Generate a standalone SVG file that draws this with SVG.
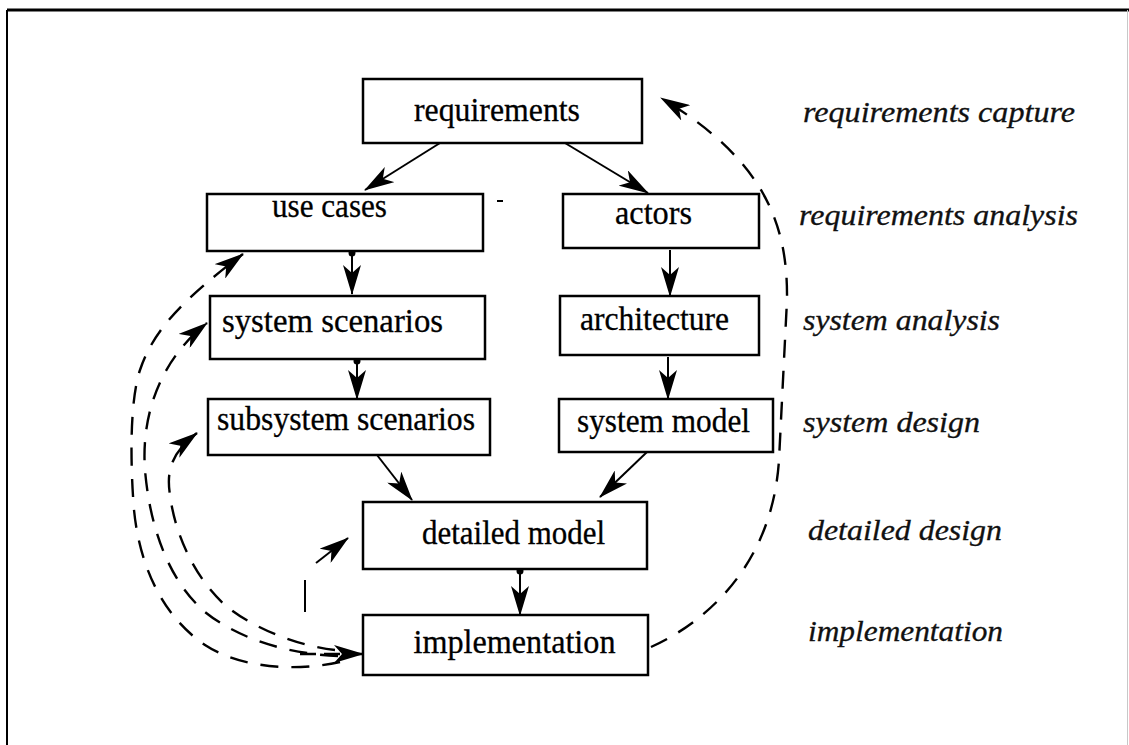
<svg xmlns="http://www.w3.org/2000/svg" width="1129" height="745" viewBox="0 0 1129 745">
<style>
.box{fill:#fff;stroke:#000;stroke-width:2.5}
.lbl{font-family:"Liberation Serif","Times New Roman",serif;font-size:33px;fill:#000;text-anchor:middle;stroke:#000;stroke-width:0.3}
.stage{font-family:"Liberation Serif","Times New Roman",serif;font-style:italic;font-size:29px;fill:#111;stroke:#111;stroke-width:0.3}
.solid{fill:none;stroke:#000;stroke-width:2}
.dash{fill:none;stroke:#000;stroke-width:2.4;stroke-dasharray:18 13}
</style>
<defs>
<marker id="ah" viewBox="0 0 30 18" refX="29" refY="9" markerWidth="30" markerHeight="18" markerUnits="userSpaceOnUse" orient="auto">
<path d="M0,0 L30,9 L0,18 L8,9 z" fill="#000"/>
</marker>
<marker id="dot" viewBox="0 0 8 8" refX="4" refY="4" markerWidth="8" markerHeight="8" markerUnits="userSpaceOnUse">
<circle cx="4" cy="4" r="3.5" fill="#000"/>
</marker>
</defs>
<rect x="0" y="0" width="1129" height="745" fill="#fff"/>
<g id="frame">
<line x1="7" y1="10" x2="1129" y2="10" stroke="#000" stroke-width="3"/>
<line x1="7" y1="10" x2="7" y2="745" stroke="#000" stroke-width="2"/>
<line x1="1127.5" y1="10" x2="1127.5" y2="745" stroke="#c8c8c8" stroke-width="1"/>
</g>
<g id="connectors">
<line class="solid" x1="440" y1="143" x2="365" y2="190" marker-end="url(#ah)"/>
<line class="solid" x1="565" y1="143" x2="648" y2="193" marker-end="url(#ah)"/>
<line class="solid" x1="352" y1="253" x2="352" y2="294" marker-start="url(#dot)" marker-end="url(#ah)"/>
<line class="solid" x1="357" y1="361" x2="357" y2="399" marker-start="url(#dot)" marker-end="url(#ah)"/>
<line class="solid" x1="670" y1="250" x2="670" y2="296" marker-end="url(#ah)"/>
<line class="solid" x1="668" y1="357" x2="668" y2="399" marker-end="url(#ah)"/>
<line class="solid" x1="377" y1="455" x2="412" y2="500" marker-end="url(#ah)"/>
<line class="solid" x1="647" y1="452" x2="600" y2="497" marker-end="url(#ah)"/>
<line class="solid" x1="520" y1="571" x2="520" y2="615" marker-start="url(#dot)" marker-end="url(#ah)"/>
<path class="dash" d="M651,647 C700,625 772,570 779,460 L787,300 C788,225 765,160 661,98" marker-end="url(#ah)"/>
<path class="dash" d="M340,662 C295,672 240,668 205,645 C165,618 140,570 134,510 C130,460 130,400 140,370 C152,335 175,305 243,254" marker-end="url(#ah)"/>
<path class="dash" d="M338,656 C290,654 240,640 205,612 C170,582 150,530 145,470 C141,415 160,360 207,323" marker-end="url(#ah)"/>
<path class="dash" d="M335,650 C300,646 255,630 225,605 C195,578 175,535 170,495 C166,470 172,452 197,433" marker-end="url(#ah)"/>
<line class="solid" x1="305" y1="580" x2="305" y2="612"/>
<line class="solid" x1="316" y1="563" x2="348" y2="538" marker-end="url(#ah)"/>
<path class="dash" style="stroke-dasharray:16 8" d="M300,654 L363,654" marker-end="url(#ah)"/>
<line x1="497" y1="201" x2="503" y2="201" stroke="#000" stroke-width="2"/>
</g>
<g id="requirements"><rect class="box" x="363" y="79" width="279" height="64"/><text class="lbl" x="497" y="121" textLength="166" lengthAdjust="spacingAndGlyphs">requirements</text></g>
<g id="use-cases"><rect class="box" x="207" y="194" width="276" height="57"/><text class="lbl" x="329.5" y="217" textLength="115" lengthAdjust="spacingAndGlyphs">use cases</text></g>
<g id="actors"><rect class="box" x="563" y="194" width="196" height="54"/><text class="lbl" x="653.5" y="224" textLength="77" lengthAdjust="spacingAndGlyphs">actors</text></g>
<g id="system-scenarios"><rect class="box" x="210" y="296" width="275" height="63"/><text class="lbl" x="332.5" y="332" textLength="221" lengthAdjust="spacingAndGlyphs">system scenarios</text></g>
<g id="architecture"><rect class="box" x="560" y="296" width="199" height="59"/><text class="lbl" x="654.5" y="330" textLength="149" lengthAdjust="spacingAndGlyphs">architecture</text></g>
<g id="subsystem-scenarios"><rect class="box" x="208" y="399" width="282" height="56"/><text class="lbl" x="346" y="430" textLength="258" lengthAdjust="spacingAndGlyphs">subsystem scenarios</text></g>
<g id="system-model"><rect class="box" x="559" y="399" width="214" height="53"/><text class="lbl" x="663.5" y="432" textLength="173" lengthAdjust="spacingAndGlyphs">system model</text></g>
<g id="detailed-model"><rect class="box" x="363" y="502" width="284" height="67"/><text class="lbl" x="513.5" y="544" textLength="183" lengthAdjust="spacingAndGlyphs">detailed model</text></g>
<g id="implementation"><rect class="box" x="363" y="615" width="285" height="60"/><text class="lbl" x="514.5" y="653" textLength="202" lengthAdjust="spacingAndGlyphs">implementation</text></g>
<g id="stages">
<text class="stage" x="803" y="122" textLength="272" lengthAdjust="spacingAndGlyphs">requirements capture</text>
<text class="stage" x="799" y="225" textLength="279" lengthAdjust="spacingAndGlyphs">requirements analysis</text>
<text class="stage" x="803" y="330" textLength="197" lengthAdjust="spacingAndGlyphs">system analysis</text>
<text class="stage" x="803" y="432" textLength="177" lengthAdjust="spacingAndGlyphs">system design</text>
<text class="stage" x="808" y="540" textLength="194" lengthAdjust="spacingAndGlyphs">detailed design</text>
<text class="stage" x="808" y="641" textLength="195" lengthAdjust="spacingAndGlyphs">implementation</text>
</g>
</svg>
